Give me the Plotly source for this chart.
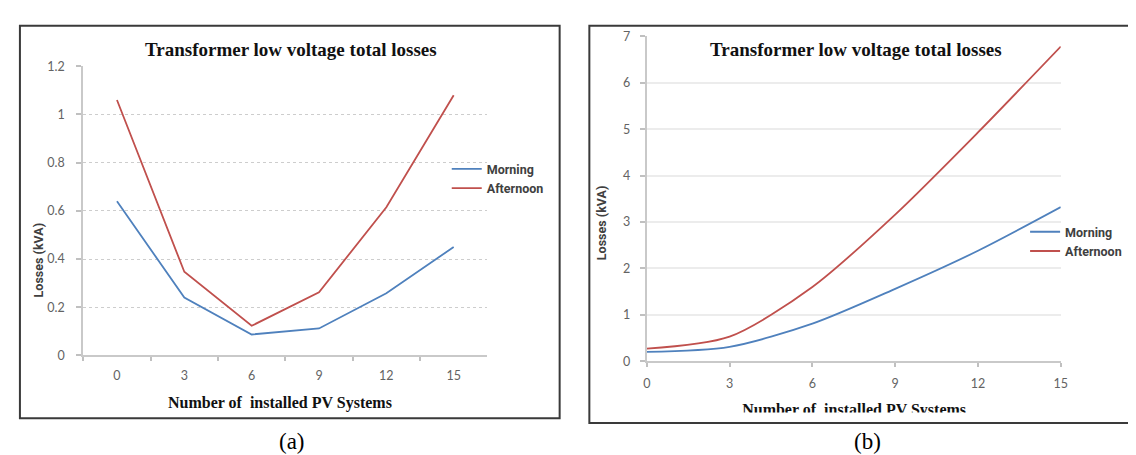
import plotly.graph_objects as go

# ---------------- data ----------------
pv_counts = ["0", "3", "6", "9", "12", "15"]
pv_numeric = [0, 3, 6, 9, 12, 15]

# panel (a)
morning_a = [0.64, 0.24, 0.087, 0.112, 0.258, 0.45]
afternoon_a = [1.06, 0.347, 0.123, 0.262, 0.615, 1.08]

# panel (b)
morning_b = [0.20, 0.31, 0.81, 1.56, 2.38, 3.32]
afternoon_b = [0.27, 0.53, 1.60, 3.16, 4.93, 6.78]

series_names = ["Morning", "Afternoon"]
chart_title = "Transformer low voltage total losses"
x_title = "Number of\u00a0 installed PV Systems"
y_title = "Losses (kVA)"
panel_labels = ["(a)", "(b)"]

# ---------------- styling ----------------
W, H = 1136, 455
BLUE = "#4F81BD"
RED = "#C0504D"
TICKFONT = dict(family="Lato", size=12.5, color="#636363")
SERIF = "Liberation Serif"
SANS_BOLD = dict(family="Roboto", size=12.5, color="#404040", weight="bold")


def px(x):
    return x / W


def py(y):
    return 1 - y / H


fig = go.Figure()

# panel (a) traces
fig.add_trace(go.Scatter(x=pv_counts, y=morning_a, name=series_names[0], mode="lines",
                         line=dict(color=BLUE, width=1.8), xaxis="x", yaxis="y", legend="legend"))
fig.add_trace(go.Scatter(x=pv_counts, y=afternoon_a, name=series_names[1], mode="lines",
                         line=dict(color=RED, width=1.8), xaxis="x", yaxis="y", legend="legend"))

# panel (b) traces (smoothed lines)
fig.add_trace(go.Scatter(x=pv_numeric, y=morning_b, name=series_names[0], mode="lines",
                         line=dict(color=BLUE, width=1.8, shape="spline", smoothing=0.8),
                         xaxis="x2", yaxis="y2", legend="legend2"))
fig.add_trace(go.Scatter(x=pv_numeric, y=afternoon_b, name=series_names[1], mode="lines",
                         line=dict(color=RED, width=1.8, shape="spline", smoothing=0.8),
                         xaxis="x2", yaxis="y2", legend="legend2"))

# clipped x-axis title of panel (b) (text cut by the frame in the original)
fig.add_trace(go.Scatter(x=[0.487], y=[0.005], mode="text", text=[x_title],
                         textfont=dict(family=SERIF, size=16, color="#111111", weight="bold"),
                         textposition="middle center", cliponaxis=True, showlegend=False,
                         hoverinfo="skip", xaxis="x3", yaxis="y3"))

axis_common = dict(showline=True, linecolor="#c9c9c9", linewidth=2, ticks="outside",
                   tickcolor="#c0c0c0", tickwidth=1.5, tickfont=TICKFONT, zeroline=False,
                   fixedrange=True)

fig.update_layout(
    width=W, height=H,
    margin=dict(l=0, r=0, t=0, b=0),
    paper_bgcolor="white", plot_bgcolor="rgba(0,0,0,0)",
    xaxis=dict(domain=[px(72), px(480)], type="category", range=[-0.5, 5.5],
               tickson="boundaries", ticklen=4, showgrid=False, anchor="y",
               ticklabelstandoff=8, **axis_common),
    yaxis=dict(domain=[py(351), py(52)], range=[0, 1.2], dtick=0.2, ticklen=5,
               showgrid=True, gridcolor="#cdcdcd", gridwidth=1.2, griddash="3px,3px",
               anchor="x", ticklabelstandoff=9, **axis_common),
    xaxis2=dict(domain=[px(641), px(1059)], range=[0, 15], tickvals=pv_numeric,
                ticktext=pv_counts, ticklen=4, showgrid=False, anchor="y2",
                ticklabelstandoff=6, **axis_common),
    yaxis2=dict(domain=[py(357), py(21)], range=[0, 7], dtick=1, ticklen=5,
                showgrid=True, gridcolor="#ececec", gridwidth=1.5, anchor="x2",
                ticklabelstandoff=7, **axis_common),
    xaxis3=dict(domain=[px(583), px(1132)], range=[0, 1], visible=False, anchor="y3",
                fixedrange=True),
    yaxis3=dict(domain=[py(410), py(10)], range=[0, 1], visible=False, anchor="x3",
                fixedrange=True),
    legend=dict(x=px(439), y=py(143), xanchor="left", yanchor="top",
                bgcolor="rgba(0,0,0,0)", tracegroupgap=0, font=SANS_BOLD),
    legend2=dict(x=px(1023), y=py(208), xanchor="left", yanchor="top",
                 bgcolor="rgba(0,0,0,0)", tracegroupgap=0, font=SANS_BOLD),
    showlegend=True,
)

TITLE_FONT = dict(family=SERIF, size=19, color="#111111", weight="bold")
annotations = [
    dict(x=px(282), y=py(35), text=chart_title, font=TITLE_FONT),
    dict(x=px(852), y=py(35), text=chart_title, font=TITLE_FONT),
    dict(x=px(271), y=py(400), text=x_title,
         font=dict(family=SERIF, size=16, color="#111111", weight="bold")),
    dict(x=px(27), y=py(253), text=y_title, textangle=-90, font=SANS_BOLD),
    dict(x=px(596), y=py(214), text=y_title, textangle=-90, font=SANS_BOLD),
    dict(x=px(283), y=py(440), text=panel_labels[0],
         font=dict(family=SERIF, size=23, color="#000000")),
    dict(x=px(864), y=py(440), text=panel_labels[1],
         font=dict(family=SERIF, size=23, color="#000000")),
]
annotations = [dict(a, xref="paper", yref="paper", showarrow=False,
                    xanchor="center", yanchor="middle") for a in annotations]
fig.update_layout(annotations=annotations)

# panel frames
fig.update_layout(shapes=[
    dict(type="rect", xref="paper", yref="paper", x0=px(8), x1=px(553), y0=py(416), y1=py(10),
         line=dict(color="#3a3a3a", width=2), layer="above"),
    dict(type="rect", xref="paper", yref="paper", x0=px(583), x1=px(1132), y0=py(421), y1=py(10),
         line=dict(color="#3a3a3a", width=2), layer="above"),
])

fig.write_html("out.html")
